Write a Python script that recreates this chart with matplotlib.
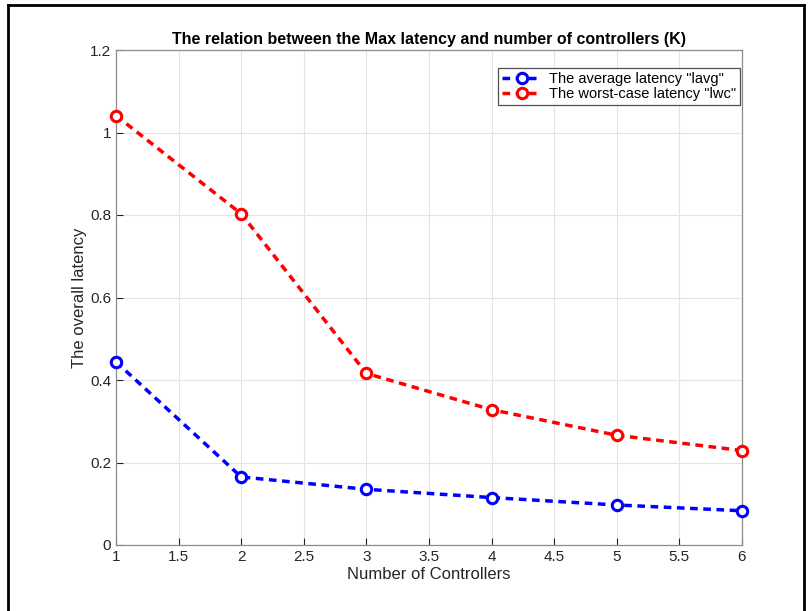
import matplotlib
matplotlib.use("Agg")
import matplotlib.pyplot as plt
from matplotlib.lines import Line2D

# ── Data ────────────────────────────────────────────────────────────────────
controllers = [1, 2, 3, 4, 5, 6]
lat_avg = [0.444, 0.165, 0.135, 0.115, 0.097, 0.083]
lat_wc = [1.041, 0.803, 0.416, 0.328, 0.266, 0.229]

plt.rcParams["font.family"] = ["Liberation Sans", "DejaVu Sans"]

fig = plt.figure(figsize=(8.09, 6.11), dpi=100)
ax = fig.add_axes([116 / 809, 66 / 611, 626 / 809, 495 / 611])

common = dict(linestyle="--", linewidth=2.5, marker="o", markersize=7.5,
              markeredgewidth=2.2, markerfacecolor="white", dashes=(2.2, 1.6),
              clip_on=False, zorder=3)
ax.plot(controllers, lat_avg, color="#0000ff",
        label='The average latency "lavg"', **common)
ax.plot(controllers, lat_wc, color="#ff0000",
        label='The worst-case latency "lwc"', **common)

ax.set_xlim(1, 6)
ax.set_ylim(0, 1.2)
ax.set_xticks([1, 1.5, 2, 2.5, 3, 3.5, 4, 4.5, 5, 5.5, 6])
ax.set_xticklabels(["1", "1.5", "2", "2.5", "3", "3.5", "4", "4.5", "5", "5.5", "6"])
ax.set_yticks([0, 0.2, 0.4, 0.6, 0.8, 1, 1.2])
ax.set_yticklabels(["0", "0.2", "0.4", "0.6", "0.8", "1", "1.2"])

ax.grid(True, color="#e3e3e3", linewidth=0.8)
ax.set_axisbelow(True)
ax.tick_params(direction="in", length=5, labelsize=11, colors="#262626",
               top=False, right=False)
for s in ax.spines.values():
    s.set_color("#8c8c8c")
    s.set_linewidth(0.9)

ax.set_xlabel("Number of Controllers", fontsize=12, color="#262626", labelpad=2)
ax.set_ylabel("The overall latency", fontsize=12, color="#262626", labelpad=2)
ax.set_title("The relation between the Max latency and number of controllers (K)",
             fontsize=11.5, fontweight="bold", pad=4)

leg = ax.legend(loc="upper right", fontsize=10.5, frameon=True, fancybox=False,
                borderpad=0.3, handlelength=2.7, handletextpad=0.5,
                labelspacing=0.05, borderaxespad=0,
                bbox_to_anchor=(0.997, 0.964))
leg.get_frame().set_edgecolor("#262626")
leg.get_frame().set_linewidth(0.9)

# outer frame
for xs, ys in [((8 / 809, 8 / 809), (0, 1 - 5 / 611)),
               ((8 / 809, 1 - 5 / 809), (1 - 5 / 611, 1 - 5 / 611)),
               ((1 - 5 / 809, 1 - 5 / 809), (0, 1 - 5 / 611))]:
    fig.add_artist(Line2D(xs, ys, transform=fig.transFigure, color="black", linewidth=2))

fig.savefig("out.png", dpi=100)
